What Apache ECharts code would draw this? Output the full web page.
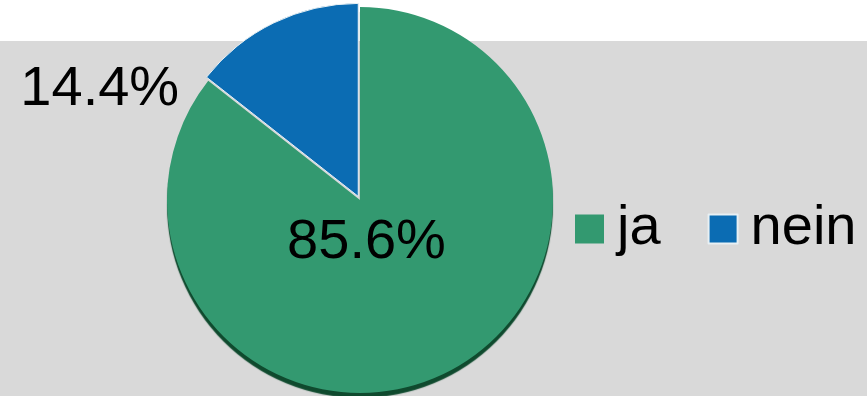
<!DOCTYPE html>
<html>
<head>
<meta charset="utf-8">
<script src="https://cdn.jsdelivr.net/npm/echarts@6/dist/echarts.min.js"></script>
<style>
html,body{margin:0;padding:0;background:#fff;}
#c{width:867px;height:396px;background:linear-gradient(to bottom,#ffffff 0px,#ffffff 41px,#d9d9d9 41px,#d9d9d9 100%);}
</style>
</head>
<body>
<div id="c"></div>
<script>
const categories = ['ja', 'nein'];
const values = [85.6, 14.4];
const colors = ['#339970', '#0b6cb3'];

const chart = echarts.init(document.getElementById('c'), null, {renderer: 'canvas'});
const font = '"Liberation Sans", Arial, sans-serif';
const textStyle = {fontFamily: font, fontSize: 56, color: '#000'};
const data = categories.map((name, i) => ({
  name,
  value: values[i],
  selected: i === 1,
  itemStyle: i === 0
    ? {color: colors[i], shadowColor: '#0f4a2e', shadowOffsetY: 5, shadowBlur: 1}
    : {color: colors[i], borderColor: '#e8f0f4', borderWidth: 1},
  label: i === 0
    ? {position: 'inside', padding: [0, 74, 0, 0], formatter: p => '{v|' + p.value.toFixed(1) + '%}\n{s1| }'}
    : {position: 'inside', padding: [0, 430, 0, 0], formatter: p => '{v|' + p.value.toFixed(1) + '%}\n{s2| }'}
}));

chart.setOption({
  backgroundColor: 'transparent',
  animation: false,
  legend: {
    data: categories,
    left: 570,
    top: 196,
    width: 297,
    itemWidth: 29,
    itemHeight: 29,
    itemGap: 47,
    icon: 'rect',
    selectedMode: false,
    textStyle: {fontFamily: font, fontSize: 56, color: '#000', padding: [0, 0, 0, 8]}
  },
  series: [{
    type: 'pie',
    center: [360, 200],
    radius: [0, 193],
    startAngle: 90,
    clockwise: true,
    selectedMode: 'multiple',
    selectedOffset: 4,
    labelLine: {show: false},
    label: {
      show: true,
      fontFamily: font,
      fontSize: 56,
      color: '#000',
      rich: {
        v: textStyle,
        s1: {height: 94, fontSize: 10},
        s2: {height: 34, fontSize: 10}
      }
    },
    emphasis: {disabled: true},
    data
  }]
});
</script>
</body>
</html>
